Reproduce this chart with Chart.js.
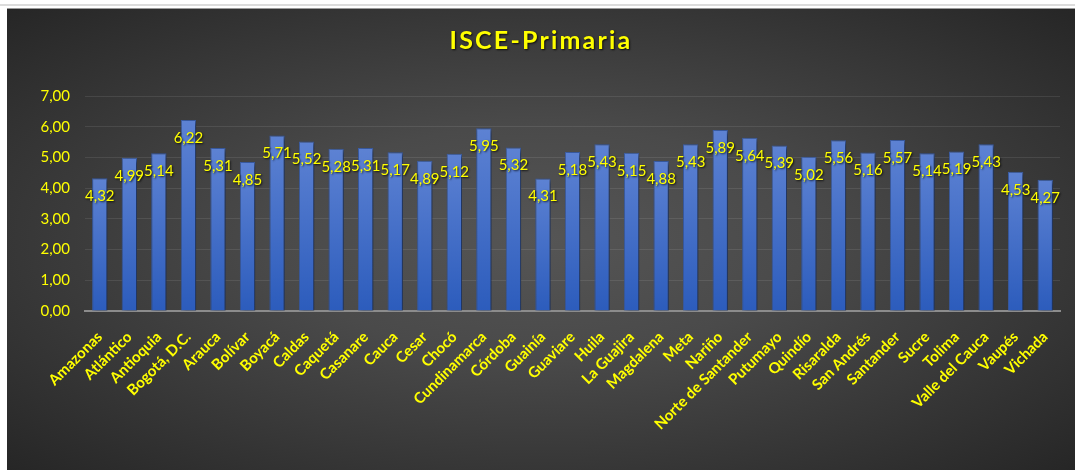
<!DOCTYPE html>
<html>
<head>
<meta charset="utf-8">
<script src="https://cdn.jsdelivr.net/npm/chart.js@4"></script>
<style>
  body { margin: 0; background: #fff; width: 1075px; height: 470px; overflow: hidden; position: relative; }
  #topline { position: absolute; left: 0; top: 4px; width: 1075px; height: 2px; background: #dcdcdc; }
  #box {
    position: absolute; left: 7px; top: 8px; width: 1068px; height: 462px;
    border-top: 1px solid #9a9a9a;
    background: radial-gradient(ellipse farthest-corner at 50% 50%, #555555 0%, #4a4a4a 35%, #262626 100%);
  }
</style>
</head>
<body>
<div id="topline"></div>
<div id="box"><canvas id="myChart"></canvas></div>
<script>
const departamentos = ['Amazonas', 'Atlántico', 'Antioquia', 'Bogotá, D.C.', 'Arauca', 'Bolívar', 'Boyacá',
  'Caldas', 'Caquetá', 'Casanare', 'Cauca', 'Cesar', 'Chocó', 'Cundinamarca', 'Córdoba', 'Guainía',
  'Guaviare', 'Huila', 'La Guajira', 'Magdalena', 'Meta', 'Nariño', 'Norte de Santander', 'Putumayo',
  'Quindío', 'Risaralda', 'San Andrés', 'Santander', 'Sucre', 'Tolima', 'Valle del Cauca', 'Vaupés', 'Vichada']
const isce = [4.32, 4.99, 5.14, 6.22, 5.31, 4.85, 5.71, 5.52, 5.28, 5.31, 5.17, 4.89, 5.12, 5.95, 5.32, 4.31,
  5.18, 5.43, 5.15, 4.88, 5.43, 5.89, 5.64, 5.39, 5.02, 5.56, 5.16, 5.57, 5.14, 5.19, 5.43, 4.53, 4.27]
const titulo = 'ISCE-Primaria'
const yMin = 0
const yMax = 7
const yStep = 1

const amarillo = '#ffff00'
const coma = v => v.toFixed(2).replace('.', ',')

// sombra de las barras, etiquetas de datos y titulo
const etiquetas = {
  id: 'etiquetas',
  beforeDatasetsDraw(chart) {
    const ctx = chart.ctx
    ctx.save()
    ctx.shadowColor = 'rgba(0,0,0,0.55)'
    ctx.shadowBlur = 4
    ctx.shadowOffsetX = 2
    ctx.shadowOffsetY = 2
  },
  afterDatasetsDraw(chart) {
    const ctx = chart.ctx
    ctx.restore()
    ctx.save()
    ctx.shadowColor = 'rgba(0,0,0,0.8)'
    ctx.shadowBlur = 2
    ctx.shadowOffsetX = 1
    ctx.shadowOffsetY = 1
    ctx.fillStyle = amarillo
    ctx.font = '15px Lato'
    ctx.textAlign = 'center'
    ctx.textBaseline = 'middle'
    const meta = chart.getDatasetMeta(0)
    meta.data.forEach((bar, i) => {
      ctx.fillText(coma(isce[i]), bar.x, bar.y + 18)
    })
    ctx.font = 'bold 25px Lato'
    ctx.letterSpacing = '2.2px'
    ctx.fillText(titulo, 534, 32)
    ctx.restore()
  }
}

var ctx = document.getElementById('myChart').getContext('2d');
var chart = new Chart(ctx, {
  type: 'bar',
  data: {
    labels: departamentos,
    datasets: [{
      label: titulo,
      data: isce,
      backgroundColor: function (c) {
        const y = c.chart.scales.y
        if (!y || c.raw === undefined) return '#4472c4'
        const y0 = y.getPixelForValue(c.raw)
        const y1 = y.getPixelForValue(0)
        if (!isFinite(y0) || !isFinite(y1) || y0 === y1) return '#4472c4'
        const g = c.chart.ctx.createLinearGradient(0, y0, 0, y1)
        g.addColorStop(0, '#5d82d3')
        g.addColorStop(1, '#2c5cbc')
        return g
      },
      borderColor: '#3a5da6',
      borderWidth: 1,
      barPercentage: 0.52,
      categoryPercentage: 1
    }]
  },
  options: {
    responsive: true,
    maintainAspectRatio: false,
    animation: false,
    layout: { padding: { top: 87, right: 15, left: 0, bottom: 0 } },
    plugins: {
      legend: { display: false },
      title: { display: false },
      tooltip: { enabled: false }
    },
    scales: {
      x: {
        afterFit(s) { s.height = 160 },
        grid: { display: false },
        border: { color: '#8c8c8c', width: 2 },
        ticks: {
          color: amarillo,
          font: { family: 'Lato', size: 15, weight: 'bold' },
          maxRotation: 45,
          minRotation: 45,
          autoSkip: false,
          padding: 9
        }
      },
      y: {
        min: yMin,
        max: yMax,
        afterFit(s) { s.width = 78 },
        border: { display: false },
        grid: { color: 'rgba(255,255,255,0.09)', drawTicks: false },
        ticks: {
          stepSize: yStep,
          color: amarillo,
          padding: 15,
          font: { family: 'Lato', size: 15 },
          callback: v => coma(v)
        }
      }
    }
  },
  plugins: [etiquetas]
});
</script>
</body>
</html>
